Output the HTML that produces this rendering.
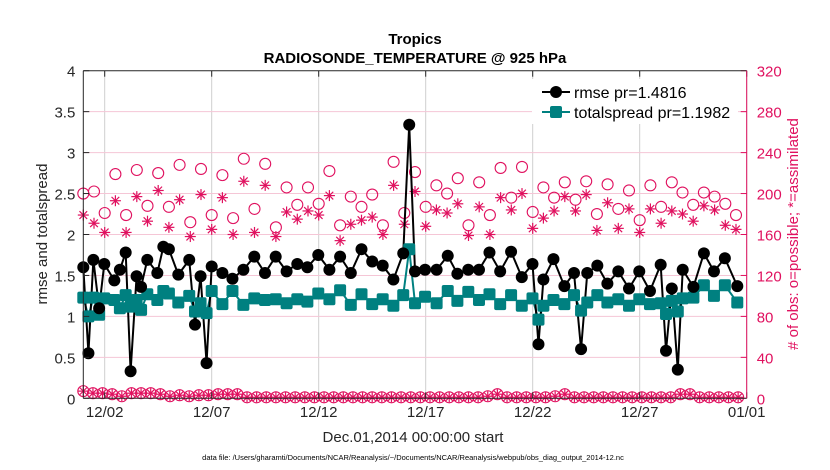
<!DOCTYPE html>
<html><head><meta charset="utf-8"><style>
html,body{margin:0;padding:0;background:#fff;}
svg{display:block;font-family:"Liberation Sans",Arial,sans-serif;}
</style></head><body>
<svg id="chart" width="830" height="470" viewBox="0 0 830 470">
<rect width="830" height="470" fill="#fff"/>
<text x="415" y="44" text-anchor="middle" font-size="15" font-weight="bold">Tropics</text>
<text x="415" y="63" text-anchor="middle" font-size="15" font-weight="bold">RADIOSONDE_TEMPERATURE @ 925 hPa</text>
<g id="grid"></g>
<g id="marks"></g>
<g id="axes"></g>
<text x="413" y="442" text-anchor="middle" font-size="15" fill="#262626">Dec.01,2014 00:00:00 start</text>
<text x="413" y="460" text-anchor="middle" font-size="7.5" fill="#000">data file: /Users/gharamti/Documents/NCAR/Reanalysis/~/Documents/NCAR/Reanalysis/webpub/obs_diag_output_2014-12.nc</text>
<text transform="translate(47,234) rotate(-90)" text-anchor="middle" font-size="15" fill="#262626">rmse and totalspread</text>
<text transform="translate(798,234) rotate(-90)" text-anchor="middle" font-size="15" fill="#e0115f"># of obs: o=possible; *=assimilated</text>
<g id="legend">
<rect x="532" y="79" width="206" height="45" fill="#fff"/>
<g>
<line x1="542" y1="92" x2="570" y2="92" stroke="#000" stroke-width="2"/>
<circle cx="556" cy="92" r="6" fill="#000"/>
<text x="574" y="98" font-size="16" fill="#000">rmse pr=1.4816</text></g>
<g>
<line x1="542" y1="112" x2="570" y2="112" stroke="#008080" stroke-width="2"/>
<rect x="550" y="106" width="12" height="12" rx="2" fill="#008080"/>
<text x="574" y="118" font-size="16" fill="#000">totalspread pr=1.1982</text></g>
</g>
</svg>
<script>
const rmseDays=[0,0.24,0.47,0.74,0.98,1.45,1.71,1.98,2.21,2.49,2.70,2.99,3.46,3.74,4.0,4.44,4.95,5.22,5.48,5.76,6.0,6.5,6.97,7.48,7.99,8.49,8.99,9.5,10.0,10.47,10.98,11.5,12.0,12.5,13.0,13.5,13.99,14.49,14.95,15.23,15.5,15.97,16.51,17.03,17.48,17.99,18.49,18.98,19.48,19.99,20.49,20.99,21.27,21.5,21.97,22.48,22.93,23.26,23.55,24.02,24.49,25.0,25.5,25.98,26.48,26.98,27.23,27.5,27.78,28.01,28.51,29.0,29.47,29.98,30.56];
const rmseVals=[1.60,0.55,1.69,1.10,1.64,1.44,1.57,1.78,0.33,1.49,1.36,1.69,1.53,1.85,1.82,1.51,1.69,0.90,1.49,0.43,1.61,1.53,1.46,1.57,1.73,1.53,1.73,1.55,1.64,1.60,1.75,1.57,1.73,1.53,1.82,1.67,1.62,1.45,1.77,3.34,1.55,1.57,1.57,1.74,1.52,1.57,1.57,1.78,1.55,1.79,1.48,1.64,0.66,1.45,1.70,1.37,1.53,0.60,1.53,1.62,1.40,1.55,1.34,1.55,1.31,1.63,0.58,1.34,0.35,1.57,1.36,1.77,1.55,1.71,1.37];
const spreadVals=[1.23,1.00,1.23,1.02,1.22,1.20,1.10,1.26,1.12,1.20,1.08,1.27,1.20,1.31,1.28,1.17,1.25,1.06,1.16,1.04,1.31,1.15,1.31,1.14,1.22,1.20,1.21,1.16,1.21,1.18,1.28,1.21,1.32,1.14,1.27,1.15,1.21,1.13,1.26,1.82,1.16,1.24,1.16,1.31,1.19,1.30,1.20,1.27,1.15,1.26,1.13,1.22,0.96,1.13,1.20,1.15,1.26,1.07,1.17,1.26,1.17,1.21,1.13,1.21,1.15,1.16,1.03,1.19,1.06,1.22,1.23,1.38,1.25,1.38,1.17];
const possibleVals=[200,202,181,219,179,223,188,220,187,228,172,224,179,218,176,234,185,229,167,206,189,206,190,222,169,197,187,199,169,231,181,221,187,208,200,215,169,211,179,225,196,226,182,206,196,211,194,212,180,209,185,203,174,208,187,211,201,189,201,197,190,179];
const assimVals=[179,171,162,193,162,197,173,203,167,194,158,199,165,196,160,212,162,208,158,182,175,183,179,198,154,170,174,177,160,208,170,202,168,184,181,190,159,187,160,196,184,200,166,176,183,197,183,199,164,191,166,185,162,185,171,183,180,173,188,184,169,165];
const rejectVals=[7,5,5,4,2,5,5,5,4,2,3,2,3,3,4,4,4,1,1,1,1,1,1,1,1,1,1,1,1,1,1,1,1,1,1,1,1,1,1,1,1,1,2,4,1,1,1,1,1,2,4,1,1,1,1,1,1,1,1,1,1,1,4,4,1,1,1,1,1];
const xTickLabels=["12/02","12/07","12/12","12/17","12/22","12/27","01/01"];
const xTickDays=[1,6,11,16,21,26,31];
const yLeftTicks=["0","0.5","1","1.5","2","2.5","3","3.5","4"];
const yRightTicks=["0","40","80","120","160","200","240","280","320"];

const X0=83.3,X1=746.7,Y0=398.3,Y1=70.7,DAYS=31,YMAX=4,RMAX=320;
const RED="#e0115f",TEAL="#008080";
function xs(d){return X0+(X1-X0)*d/DAYS;}
function yl(v){return Y0-(Y0-Y1)*v/YMAX;}
function yr(v){return Y0-(Y0-Y1)*v/RMAX;}
const NS="http://www.w3.org/2000/svg";
function mk(tag,attrs,parent){const e=document.createElementNS(NS,tag);for(const k in attrs)e.setAttribute(k,attrs[k]);parent.appendChild(e);return e;}
const grid=document.getElementById('grid'),marks=document.getElementById('marks'),axes=document.getElementById('axes');

xTickDays.forEach(function(d,i){
  const g=mk('line',{x1:xs(d),x2:xs(d),y1:Y1,y2:Y0,stroke:'#cfcfcf','stroke-width':1},grid);
  
  
  const t=mk('text',{x:xs(d),y:417,'text-anchor':'middle','font-size':15,fill:'#262626'},axes);
  t.textContent=xTickLabels[i];
  
  
  mk('line',{x1:xs(d),x2:xs(d),y1:Y0,y2:Y0-6,stroke:'#262626'},axes);
  mk('line',{x1:xs(d),x2:xs(d),y1:Y1,y2:Y1+6,stroke:'#262626'},axes);
});
yRightTicks.forEach(function(lab,i){
  const v=+lab;
  if(i>0&&i<yRightTicks.length-1){
    const g=mk('line',{x1:X0,x2:X1,y1:yr(v),y2:yr(v),stroke:'#f5c6d6','stroke-width':1},grid);
    
    
  }
  const t=mk('text',{x:X1+10,y:yr(v)+6,'font-size':15,fill:RED},axes);
  t.textContent=lab;
  
  
  mk('line',{x1:X1,x2:X1-6,y1:yr(v),y2:yr(v),stroke:RED},axes);
});
yLeftTicks.forEach(function(lab){
  const v=+lab;
  const t=mk('text',{x:X0-8,y:yl(v)+6,'text-anchor':'end','font-size':15,fill:'#262626'},axes);
  t.textContent=lab;
  
  
  mk('line',{x1:X0,x2:X0+6,y1:yl(v),y2:yl(v),stroke:'#262626'},axes);
});
mk('line',{x1:X0,x2:X1,y1:Y0,y2:Y0,stroke:'#262626'},axes);
mk('line',{x1:X0,x2:X1,y1:Y1,y2:Y1,stroke:'#262626'},axes);
mk('line',{x1:X0,x2:X0,y1:Y1,y2:Y0,stroke:'#262626'},axes);
mk('line',{x1:X1,x2:X1,y1:Y1,y2:Y0,stroke:RED},axes);

function star(cx,cy,s,parent){
  const g=mk('g',{stroke:RED,'stroke-width':1.2},parent);
  mk('line',{x1:cx-s,x2:cx+s,y1:cy,y2:cy},g);
  mk('line',{x1:cx,x2:cx,y1:cy-s,y2:cy+s},g);
  mk('line',{x1:cx-s*0.7,x2:cx+s*0.7,y1:cy-s*0.7,y2:cy+s*0.7},g);
  mk('line',{x1:cx-s*0.7,x2:cx+s*0.7,y1:cy+s*0.7,y2:cy-s*0.7},g);
  return g;
}
possibleVals.forEach(function(v,i){
  const c=mk('circle',{cx:xs(i*0.5),cy:yr(v),r:5.5,fill:'none',stroke:RED,'stroke-width':1.1},marks);
  
  
});
assimVals.forEach(function(v,i){
  const s=star(xs(i*0.5),yr(v),5.5,marks);
  
  
});
rejectVals.forEach(function(v,i){
  const d=Math.min(i*0.45,31);
  const c=mk('circle',{cx:xs(d),cy:yr(v),r:5.5,fill:'none',stroke:RED,'stroke-width':1.1},marks);
  
  
  star(xs(d),yr(v),5,marks);
});
let p=rmseDays.map(function(d,i){return xs(d)+','+yl(spreadVals[i]);}).join(' ');
const sl=mk('polyline',{points:p,fill:'none',stroke:TEAL,'stroke-width':2},marks);


p=rmseDays.map(function(d,i){return xs(d)+','+yl(rmseVals[i]);}).join(' ');
const rl=mk('polyline',{points:p,fill:'none',stroke:'#000','stroke-width':2},marks);


rmseDays.forEach(function(d,i){
  const q=mk('rect',{x:xs(d)-6,y:yl(spreadVals[i])-6,width:12,height:12,rx:2,fill:TEAL},marks);
  
  
});
rmseDays.forEach(function(d,i){
  const c=mk('circle',{cx:xs(d),cy:yl(rmseVals[i]),r:6,fill:'#000'},marks);
  
  
});
</script>
</body></html>
